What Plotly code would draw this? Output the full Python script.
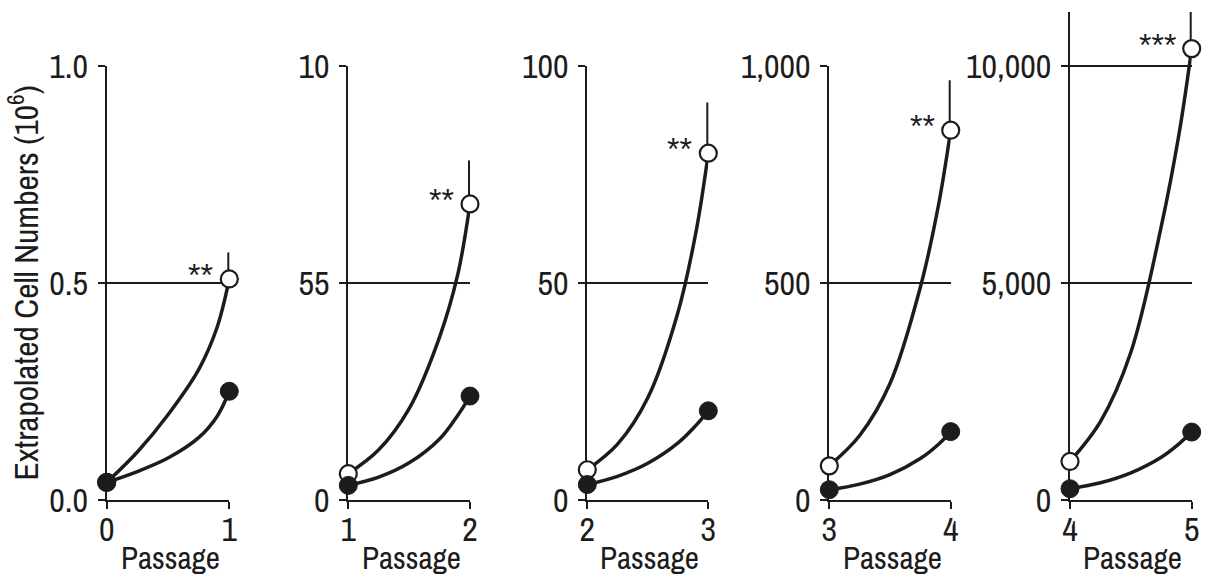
import plotly.graph_objects as go

# ---------------- data ----------------
passage_start = [0, 1, 2, 3, 4]
# positions along each passage interval where the curves were read
curve_t = [0, 0.25, 0.5, 0.75, 0.9, 1]
open_curves = [
    [0.04, 0.11, 0.196, 0.3, 0.397, 0.509],
    [0.6, 1.15, 2.1, 3.75, 5.2, 6.82],
    [6.9, 12.8, 23.5, 43.3, 62, 79.9],
    [78, 148, 268, 490, 680, 852],
    [882, 1800, 3400, 6300, 8500, 10400],
]
filled_curves = [
    [0.04, 0.065, 0.096, 0.143, 0.192, 0.25],
    [0.33, 0.52, 0.85, 1.4, 1.95, 2.39],
    [3.5, 5.4, 8.4, 13.1, 17.2, 20.5],
    [23, 36, 58, 95, 128, 157],
    [253, 390, 620, 980, 1300, 1559],
]
open_err = [0.061, 1.0, 11.7, 115, 880]
stars = ["**", "**", "**", "**", "***"]
ytick_vals = [[0, 0.5, 1.0], [0, 5, 10], [0, 50, 100], [0, 500, 1000], [0, 5000, 10000]]
ytick_text = [["0.0", "0.5", "1.0"], ["0", "55", "10"], ["0", "50", "100"],
              ["0", "500", "1,000"], ["0", "5,000", "10,000"]]
y_top = [1.0, 10, 100, 1000, 11244]
x_title = "Passage"
y_title = "Extrapolated Cell Numbers (10<sup>6</sup>)"

# ---------------- layout constants ----------------
W, H = 1206, 581
INK = "#1c1c1c"
FONT = "Liberation Sans Narrow, Archivo Narrow, Arial Narrow, Liberation Sans, sans-serif"
left_px = [106.7, 348.3, 587.3, 829.3, 1070.0]
right_px = [229.3, 470.0, 708.3, 950.7, 1191.7]
bottom_px = 499.7
top_px = [66.0, 66.0, 66.0, 66.0, 12.0]
passage_y_px = 558

fig = go.Figure()
layout = dict(width=W, height=H, margin=dict(l=0, r=0, t=0, b=0, autoexpand=False),
              paper_bgcolor="white", plot_bgcolor="white", showlegend=False,
              font=dict(family=FONT, color=INK))
annotations = []
for i, p in enumerate(passage_start):
    xa = "x" if i == 0 else f"x{i+1}"
    ya = "y" if i == 0 else f"y{i+1}"
    xs = [p + t for t in curve_t]
    for ys in (open_curves[i], filled_curves[i]):
        fig.add_trace(go.Scatter(x=xs, y=ys, mode="lines", xaxis=xa, yaxis=ya,
                                 line=dict(color=INK, width=3.5, shape="spline", smoothing=1.0),
                                 cliponaxis=False, hoverinfo="skip"))
    fig.add_trace(go.Scatter(x=[xs[0], xs[-1]], y=[open_curves[i][0], open_curves[i][-1]],
                             mode="markers", xaxis=xa, yaxis=ya, cliponaxis=False,
                             marker=dict(size=17, color="white", line=dict(color=INK, width=2.2)),
                             error_y=dict(type="data", symmetric=False, array=[0, open_err[i]],
                                          arrayminus=[0, 0], color=INK, thickness=4, width=0)))
    fig.add_trace(go.Scatter(x=[xs[0], xs[-1]], y=[filled_curves[i][0], filled_curves[i][-1]],
                             mode="markers", xaxis=xa, yaxis=ya, cliponaxis=False,
                             marker=dict(size=18, color=INK, line=dict(color=INK, width=1))))
    xkey = "xaxis" if i == 0 else f"xaxis{i+1}"
    ykey = "yaxis" if i == 0 else f"yaxis{i+1}"
    layout[xkey] = dict(domain=[left_px[i] / W, right_px[i] / W], anchor=ya, automargin=False,
                        range=[p, p + 1], tickvals=[p, p + 1], ticktext=[str(p), str(p + 1)],
                        showline=True, linecolor=INK, linewidth=2, showgrid=False, zeroline=False,
                        ticks="outside", ticklen=7, tickwidth=2, tickcolor=INK,
                        tickfont=dict(size=34, family=FONT, color=INK), ticklabelstandoff=-9,
                        layer="below traces", fixedrange=True)
    layout[ykey] = dict(domain=[(H - bottom_px) / H, (H - top_px[i]) / H], anchor=xa, automargin=False,
                        range=[0, y_top[i]], tickvals=ytick_vals[i], ticktext=ytick_text[i],
                        showline=True, linecolor=INK, linewidth=2,
                        showgrid=True, gridcolor=INK, gridwidth=2, zeroline=False,
                        ticks="outside", ticklen=7, tickwidth=2, tickcolor=INK,
                        tickfont=dict(size=34, family=FONT, color=INK), ticklabelstandoff=3,
                        layer="below traces", fixedrange=True)
    if i == 0:
        layout[ykey]["title"] = dict(text=y_title, font=dict(size=33.5, family=FONT, color=INK),
                                     standoff=13)
    # "Passage" label under each panel
    annotations.append(dict(x=((left_px[i] + right_px[i]) / 2 + 2) / W,
                            y=(H - passage_y_px) / H, xref="paper", yref="paper",
                            text=x_title, showarrow=False, xanchor="center", yanchor="middle",
                            font=dict(size=31, family=FONT, color=INK)))
    # significance stars
    annotations.append(dict(x=p + 1, y=open_curves[i][-1], xref=xa, yref=ya, text=stars[i],
                            showarrow=False, xanchor="right", yanchor="middle", xshift=-14, yshift=4,
                            font=dict(size=32, family="Liberation Sans, Arial, sans-serif", color=INK)))
layout["annotations"] = annotations
fig.update_layout(**layout)
fig.write_html("out.html")
